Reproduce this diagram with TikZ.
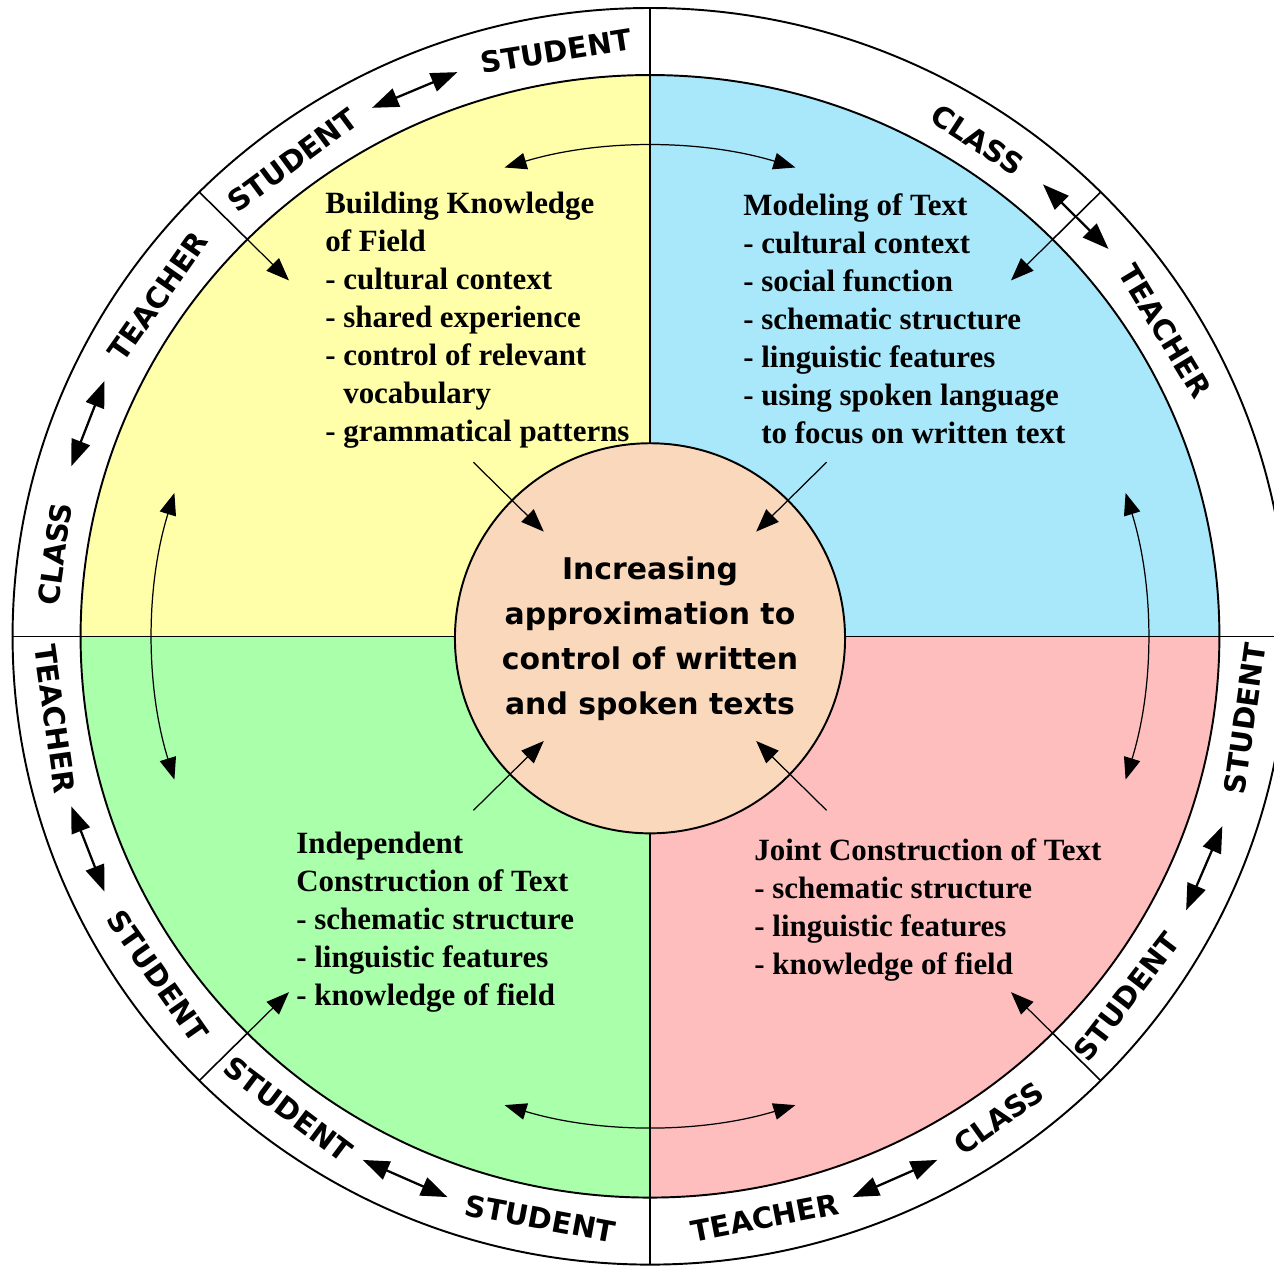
\documentclass[tikz,border=0pt]{standalone}
\usepackage{fontspec}
\setmainfont{Liberation Serif}
\newfontfamily\labelfont{DejaVu Sans}
\usetikzlibrary{arrows.meta}

\definecolor{fieldyellow}{RGB}{255,255,170}
\definecolor{modelblue}{RGB}{168,232,250}
\definecolor{indepgreen}{RGB}{170,255,170}
\definecolor{jointpink}{RGB}{255,190,190}
\definecolor{centrepeach}{RGB}{249,216,188}

\tikzset{
  ringlabel/.style={font=\labelfont\bfseries\fontsize{16.5}{19}\selectfont, inner sep=0pt},
  stagetext/.style={font=\bfseries\fontsize{17.6}{21.6}\selectfont, align=left, anchor=north west, inner sep=0pt},
  ringarrow/.style={line width=1.3pt, {Triangle[length=15pt,width=11pt]}-{Triangle[length=15pt,width=11pt]}},
  cyclearrow/.style={line width=0.7pt, {Triangle[length=12.5pt,width=9.5pt]}-{Triangle[length=12.5pt,width=9.5pt]}},
  inarrow/.style={line width=0.7pt, -{Triangle[length=13pt,width=10pt]}},
}

\begin{document}
\begin{tikzpicture}[x=0.0203cm, y=0.02cm]
\useasboundingbox (-640.4,-629) rectangle (614.8,636);

	% the four stages
	\fill[fieldyellow] (0,0) -- (90:561) arc[start angle=90, end angle=180, radius=561] -- cycle;
	\fill[modelblue]   (0,0) -- (0:561) arc[start angle=0, end angle=90, radius=561] -- cycle;
	\fill[indepgreen]  (0,0) -- (180:561) arc[start angle=180, end angle=270, radius=561] -- cycle;
	\fill[jointpink]   (0,0) -- (270:561) arc[start angle=270, end angle=360, radius=561] -- cycle;

	\draw[line width=1.1pt] (0,0) circle (561);
	\draw[line width=1.1pt] (0,0) circle (628);
	\draw[line width=0.9pt] (0,-628) -- (0,628);
	\draw[line width=0.9pt] (-628,0) -- (628,0);
	\foreach \a in {45,135,225,315}
		\draw[line width=0.9pt] (\a:561) -- (\a:628);

	% ring
	\foreach \a/\w [count=\i] in {99/STUDENT,126.5/STUDENT,145/TEACHER,172/CLASS,57/CLASS,31/TEACHER}
		\node[ringlabel, rotate=\a-90] (up\i) at (\a:592) {\w};
	\foreach \a/\w [count=\i] in {188/TEACHER,215/STUDENT,233/STUDENT,259.5/STUDENT,281/TEACHER,305.5/CLASS,322.5/STUDENT,352/STUDENT}
		\node[ringlabel, rotate=\a+90] (down\i) at (\a:592) {\w};
	\foreach \a [count=\i] in {113,159,201,246,294,337,45}{
		\coordinate (ra\i) at ({\a-4.4}:595);
		\coordinate (rb\i) at ({\a+4.4}:595);
		\draw[ringarrow] (ra\i) -- (rb\i);
	}

	% cycle between stages
	\foreach \a [count=\i] in {90,180,270,0}{
		\coordinate (cyc\i) at ({\a-17}:490);
		\draw[cyclearrow] (cyc\i) arc[start angle=\a-17, end angle=\a+17, radius=490];
	}

	\node[circle, draw, fill=centrepeach, line width=1.1pt, minimum size=7.8cm, inner sep=0pt, align=center,
		font=\labelfont\bfseries\fontsize{17}{25.6}\selectfont] (centre) at (0,-2)
		{Increasing\\approximation to\\control of written\\and spoken texts};

	\foreach \a [count=\i] in {135,45,225,315}{
		\coordinate (rim\i) at (\a:561);
		\coordinate (tip\i) at (\a:503);
		\draw[inarrow] (rim\i) -- (tip\i);
		\coordinate (out\i) at (\a:246);
		\coordinate (in\i) at (\a:148);
		\draw[inarrow] (out\i) -- (in\i);
	}

	\node[stagetext] (field) at (-320.2,444.4) {Building Knowledge\\of Field\\- cultural context\\- shared experience\\- control of relevant\\\hspace*{0.58em}vocabulary\\- grammatical patterns};
	\node[stagetext] (model) at (91.6,442.4) {Modeling of Text\\- cultural context\\- social function\\- schematic structure\\- linguistic features\\- using spoken language\\\hspace*{0.58em}to focus on written text};
	\node[stagetext] (indep) at (-348.8,-195.6) {Independent\\Construction of Text\\- schematic structure\\- linguistic features\\- knowledge of field};
	\node[stagetext] (joint) at (102.5,-201.6) {Joint Construction of Text\\- schematic structure\\- linguistic features\\- knowledge of field};

\end{tikzpicture}
\end{document}
